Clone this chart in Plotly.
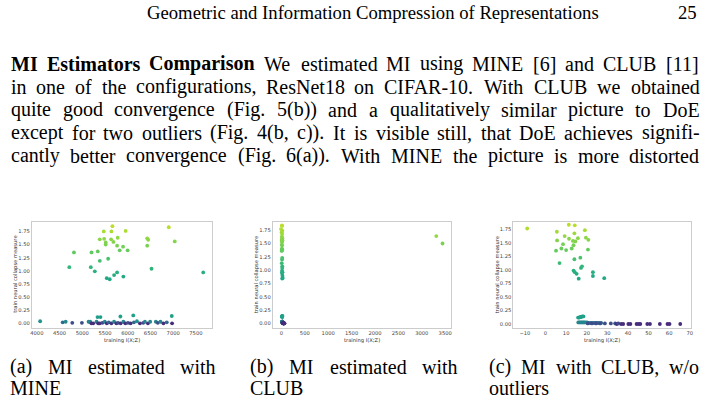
import plotly.graph_objects as go

W, H = 707, 401

# ---------------- data ----------------
# (a) MI estimated with MINE
mine_x = [4715, 4817, 5188, 5203, 5276, 5341, 5385, 5385, 5473, 5481, 5516, 5516, 5539, 5569,
          5604, 5634, 5641, 5663, 5685, 5700, 5766, 5766, 5780, 5823, 5897, 5904, 5954, 5998,
          6429, 6451, 6429, 6523, 6903, 7035, 7661,
          5335, 5400, 5838, 6122, 6969,
          4073, 4569, 4635, 4780, 4992, 5138, 5174, 5200, 5240, 5313, 5350, 5386, 5444, 5495,
          5540, 5583, 5641, 5699, 5750, 5787, 5845, 5904, 5947, 6006, 6064, 6137, 6203, 6269,
          6342, 6378, 6444, 6494, 6618, 6662, 6720, 6786, 6859, 6976]
mine_y = [1.07, 1.35, 1.07, 1.35, 0.99, 1.37, 1.19, 1.60, 1.75, 1.61, 1.54, 1.50, 0.86, 1.23,
          0.84, 1.60, 1.75, 1.85, 1.55, 0.92, 0.97, 1.48, 1.63, 1.39, 1.46, 0.89, 1.76, 1.39,
          1.62, 1.59, 1.48, 1.04, 1.83, 1.56, 0.97,
          0.12, 0.12, 0.13, 0.15, 0.14,
          0.04, 0.02, 0.03, 0.01, 0.01, 0.03, 0.03, 0.00, 0.00, 0.03, 0.00, 0.00, 0.01, 0.03,
          0.00, 0.02, 0.00, 0.03, 0.00, 0.01, 0.00, 0.03, 0.00, 0.01, 0.00, 0.02, 0.04, 0.00,
          0.01, 0.03, 0.00, 0.03, 0.03, 0.01, 0.03, 0.00, 0.02, 0.00]

# (c) MI with CLUB, without outliers
club_x = [-8.9, 5.5, 5.6, 5.1, 6.8, 7.7, 8.5, 9.3, 10.0, 11.3, 11.4, 12.7, 13.3, 13.6, 14.0,
          14.2, 14.0, 14.5, 15.7, 13.6, 14.2, 15.1, 16.1, 16.9, 17.2, 17.7, 19.1, 19.6, 20.8,
          20.6, 23.0, 23.0, 28.5,
          15.8, 16.3, 16.8, 17.3, 17.8, 18.4,
          15.9, 16.4, 16.9, 17.4, 17.9, 18.4, 18.9, 19.5, 20.2, 21.0, 21.8, 22.6, 23.5, 24.3,
          25.2, 26.0, 27.0,
          20.5, 22.5, 24.5, 26.5, 28.8, 31.7, 33.8, 34.6, 35.3, 36.7, 37.7, 40.2, 41.2, 44.2,
          45.2, 46.0, 49.4, 50.7, 55.5, 59.2, 60.2, 65.4]
club_y = [1.77, 1.71, 1.55, 1.36, 1.13, 1.40, 1.48, 1.63, 1.37, 1.84, 1.58, 1.40, 1.54, 1.46,
          1.20, 1.83, 1.68, 1.53, 1.59, 0.99, 0.96, 0.93, 0.84, 1.23, 1.04, 1.07, 1.74, 1.60,
          1.56, 1.38, 0.96, 0.89, 0.85,
          0.12, 0.12, 0.13, 0.13, 0.14, 0.14,
          0.03, 0.03, 0.03, 0.03, 0.03, 0.03, 0.03, 0.03, 0.03, 0.02, 0.02, 0.02, 0.02, 0.02,
          0.02, 0.02, 0.02,
          0.01, 0.01, 0.01, 0.01, 0.01, 0.01, 0.01, 0.00, 0.01, 0.00, 0.00, 0.00, 0.00, 0.00,
          0.00, 0.00, 0.00, 0.00, 0.00, 0.00, 0.00, 0.00]

# (b) CLUB including the two outliers
club_out_x = [3309, 3443]
club_out_y = [1.64, 1.50]

yticks = [0.0, 0.25, 0.5, 0.75, 1.0, 1.25, 1.5, 1.75]
xticks_a = [4000, 4500, 5000, 5500, 6000, 6500, 7000, 7500]
xticks_b = [0, 500, 1000, 1500, 2000, 2500, 3000, 3500]
xticks_c = [-10, 0, 10, 20, 30, 40, 50, 60, 70]

header = "Geometric and Information Compression of Representations"
page_no = "25"
body_lines = [
    [("MI", True), ("Estimators", True), ("Comparison", True)] +
    [(w, False) for w in "We estimated MI using MINE [6] and CLUB [11]".split()],
    [(w, False) for w in "in one of the configurations, ResNet18 on CIFAR-10. With CLUB we obtained".split()],
    [(w, False) for w in "quite good convergence (Fig. 5(b)) and a qualitatively similar picture to DoE".split()],
    [(w, False) for w in "except for two outliers (Fig. 4(b, c)). It is visible still, that DoE achieves signifi-".split()],
    [(w, False) for w in "cantly better convergence (Fig. 6(a)). With MINE the picture is more distorted".split()],
]
captions = [
    ("(a) MI estimated with", "MINE"),
    ("(b) MI estimated with", "CLUB"),
    ("(c) MI with CLUB, w/o", "outliers"),
]
xtitle = "training I(X;Z)"
ytitle = "train neural collapse measure"

# ---------------- font metrics (Times / Liberation Serif, per 1000 em) ----------------
TR = {' ': 250, '(': 333, ')': 333, ',': 250, '-': 333, '.': 250, '/': 278, ':': 278, ';': 278,
      '[': 333, ']': 333}
for ch in "0123456789":
    TR[ch] = 500
TR.update(dict(zip("ABCDEFGHIJKLMNOPQRSTUVWXYZ",
                   [722, 667, 667, 722, 611, 556, 722, 722, 333, 389, 722, 611, 889, 722, 722,
                    556, 722, 667, 556, 611, 722, 722, 944, 722, 722, 611])))
TR.update(dict(zip("abcdefghijklmnopqrstuvwxyz",
                   [444, 500, 444, 500, 444, 333, 500, 500, 278, 278, 500, 278, 778, 500, 500,
                    500, 500, 333, 389, 278, 500, 500, 722, 500, 500, 444])))
TB = dict(TR)
TB.update(dict(zip("ABCDEFGHIJKLMNOPQRSTUVWXYZ",
                   [722, 667, 722, 722, 667, 611, 778, 778, 389, 500, 778, 667, 944, 722, 778,
                    611, 778, 722, 556, 667, 722, 722, 1000, 722, 722, 667])))
TB.update(dict(zip("abcdefghijklmnopqrstuvwxyz",
                   [500, 556, 444, 556, 444, 333, 500, 556, 278, 333, 556, 278, 833, 556, 500,
                    556, 556, 444, 389, 333, 556, 500, 722, 500, 500, 444])))


def tw(s, fs, bold=False):
    t = TB if bold else TR
    return sum(t.get(c, 500) for c in s) / 1000.0 * fs


SERIF = "Liberation Serif"
SANS = "DejaVu Sans"
annotations = []


def add_text(xpx, baseline, text, fs, bold=False, xanchor="left"):
    annotations.append(dict(
        x=xpx / W, y=1 - (baseline - 0.34 * fs) / H, xref="paper", yref="paper",
        text=("<b>%s</b>" % text) if bold else text, showarrow=False,
        xanchor=xanchor, yanchor="middle", borderpad=0,
        font=dict(family=SERIF, size=fs, color="black")))


def justify(words, x0, x1, baseline, fs):
    widths = [tw(w, fs, b) for w, b in words]
    gap = (x1 - x0 - sum(widths)) / (len(words) - 1)
    x = x0
    for (w, b), wd in zip(words, widths):
        add_text(x, baseline, w, fs, b)
        x += wd + gap


FS = 20
# header
hfs = 452 / tw(header, 1)
add_text(601, 19.3, header, hfs, xanchor="right")
add_text(700, 19.3, page_no, hfs, xanchor="right")
# body
for i, line in enumerate(body_lines):
    justify(line, 8, 700, 70.7 + 23 * i, FS)
# captions
cap_cols = [(7, 214), (248, 457), (489, 700)]
for (l1, l2), (c0, c1) in zip(captions, cap_cols):
    justify([(w, False) for w in l1.split()], c0, c1, 373.3, FS)
    add_text(c0, 394.3, l2, FS)

# ---------------- scatter panels ----------------
cscale = [[0.0, '#472d7b'], [0.006, '#3b528b'], [0.012, '#2c728e'], [0.018, '#21918c'],
          [0.07, '#1fa187'], [0.45, '#22a884'], [0.55, '#2fb47c'], [0.65, '#4ac16d'],
          [0.75, '#6ece58'], [0.85, '#8fd744'], [0.95, '#b5de2b'], [1.0, '#c2df23']]

panels = [
    dict(x=mine_x, y=mine_y, dom=(30, 211), xr=(3890, 7850), yr=(-0.089, 1.94), xt=xticks_a, yt_x=14.2),
    dict(x=club_x + club_out_x, y=club_y + club_out_y, dom=(272.3, 451.7), xr=(-185, 3627),
         yr=(-0.088, 1.913), xt=xticks_b, yt_x=256),
    dict(x=club_x, y=club_y, dom=(514.3, 693.3), xr=(-15.6, 70.8), yr=(-0.074, 1.90), xt=xticks_c, yt_x=498.5),
]
top, bottom = 221.5, 328

fig = go.Figure()
layout = dict(width=W, height=H, margin=dict(l=0, r=0, t=0, b=0), paper_bgcolor="white",
              plot_bgcolor="white", showlegend=False)
for i, p in enumerate(panels):
    k = "" if i == 0 else str(i + 1)
    fig.add_trace(go.Scatter(
        x=p["x"], y=p["y"], mode="markers", xaxis="x" + k, yaxis="y" + k,
        marker=dict(size=3.8, color=p["y"], colorscale=cscale, cmin=0, cmax=1.9,
                    line=dict(width=0)), hoverinfo="skip"))
    axcommon = dict(showgrid=False, zeroline=False, showline=True, mirror=True,
                    linecolor="#cccccc", linewidth=1, ticks="",
                    tickfont=dict(family=SANS, size=5.2, color="#444444"))
    layout["xaxis" + k] = dict(axcommon, domain=[p["dom"][0] / W, p["dom"][1] / W],
                               range=list(p["xr"]), tickvals=p["xt"], anchor="y" + k)
    layout["yaxis" + k] = dict(axcommon, domain=[1 - bottom / H, 1 - top / H],
                               range=list(p["yr"]), tickvals=yticks, tickformat=".2f",
                               anchor="x" + k)
    cx = (p["dom"][0] + p["dom"][1]) / 2
    annotations.append(dict(x=cx / W, y=1 - 340.5 / H, xref="paper", yref="paper",
                            text=xtitle, showarrow=False, xanchor="center", yanchor="middle",
                            borderpad=0,
                            font=dict(family=SANS, size=5.2, color="#333333")))
    annotations.append(dict(x=p["yt_x"] / W, y=1 - ((top + bottom) / 2) / H, xref="paper",
                            yref="paper", text=ytitle, showarrow=False, textangle=-90,
                            xanchor="center", yanchor="middle", borderpad=0,
                            font=dict(family=SANS, size=5.2, color="#333333")))

layout["annotations"] = annotations
fig.update_layout(**layout)
fig.write_html("out.html")
